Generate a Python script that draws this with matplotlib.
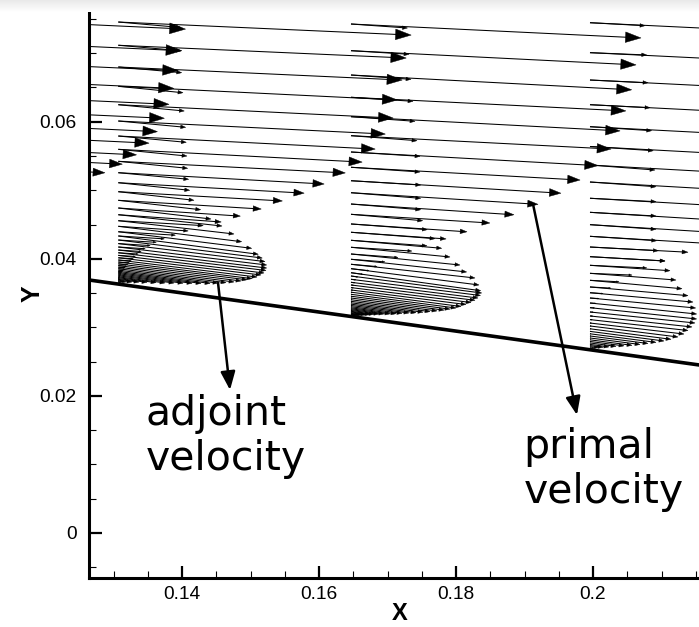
import numpy as np
import matplotlib
matplotlib.use("Agg")
import matplotlib.pyplot as plt
from matplotlib.collections import LineCollection
from matplotlib.patches import Polygon
from matplotlib.ticker import MultipleLocator, FuncFormatter

# ---------------- data ----------------
wall_x = [0.12642, 0.21723]
wall_y = [0.03691, 0.02427]

st0_x = 0.09679
st1_x = 0.13070
st2_x = 0.16467
st3_x = 0.19956

# station 0 (upstream, only primal arrows reach the plot)
st0_y = [0.07554, 0.07234, 0.06939, 0.06680, 0.06444, 0.06236, 0.06041, 0.05869, 0.05694, 0.05554, 0.05424]
st0_pu = [1.033, 1.020, 1.008, 0.993, 0.976, 0.960, 0.936, 0.907, 0.864, 0.815, 0.755]
st0_pv = [-0.048, -0.047, -0.046, -0.046, -0.045, -0.044, -0.044, -0.043, -0.042, -0.041, -0.040]

# station 1
st1_y = [0.07454, 0.07115, 0.06798, 0.06516, 0.06248, 0.06010, 0.05791, 0.05597, 0.05422, 0.05256,
         0.05110, 0.04979, 0.04853, 0.04741, 0.04643, 0.04556, 0.04474, 0.04395, 0.04333, 0.04274,
         0.04222, 0.04172, 0.04128, 0.04088, 0.04050, 0.04015, 0.03982, 0.03953, 0.03926, 0.03901,
         0.03878, 0.03856, 0.03835, 0.03816, 0.03799, 0.03783, 0.03767, 0.03752, 0.03737, 0.03724,
         0.03711, 0.03700, 0.03688, 0.03676, 0.03666, 0.03656]
st1_pu = [1.010, 0.993, 0.979, 0.962, 0.948, 0.921, 0.886, 0.841, 0.783, 0.710,
          0.641, 0.566, 0.493, 0.421, 0.355, 0.293, 0.241, 0.197, 0.159, 0.131,
          0.110, 0.093, 0.079, 0.069, 0.059, 0.052, 0.045, 0.038, 0.033, 0.028,
          0.024, 0.021, 0.017, 0.015, 0.012, 0.010, 0.009, 0.007, 0.006, 0.0045,
          0.0035, 0.003, 0.002, 0.0015, 0.001, 0.0005]
st1_pv = [-0.045, -0.044, -0.045, -0.047, -0.046, -0.045, -0.045, -0.044, -0.040, -0.039,
          -0.036, -0.032, -0.030, -0.028, -0.025, -0.017, -0.016, -0.012, -0.010, -0.008,
          -0.007, -0.006, -0.005, -0.0045, -0.004, -0.0035, -0.003, -0.0028, -0.0024, -0.002,
          -0.0017, -0.0015, -0.0013, -0.0011, -0.0009, -0.0008, -0.0007, -0.0005, -0.0004, -0.0003,
          -0.0003, -0.0002, -0.0002, -0.0001, -0.0001, 0.0]
st1_au = [0.630, 0.630, 0.634, 0.647, 0.660, 0.674, 0.680, 0.687, 0.694, 0.704,
          0.714, 0.757, 0.824, 0.927, 1.037, 1.157, 1.234, 1.334, 1.400, 1.440,
          1.467, 1.484, 1.484, 1.477, 1.457, 1.427, 1.387, 1.337, 1.287, 1.227,
          1.157, 1.077, 0.997, 0.917, 0.827, 0.737, 0.647, 0.557, 0.467, 0.377,
          0.287, 0.207, 0.137, 0.077, 0.040, 0.020]
st1_av = [-0.055, -0.055, -0.057, -0.064, -0.063, -0.063, -0.063, -0.067, -0.070, -0.066,
          -0.076, -0.086, -0.094, -0.110, -0.113, -0.133, -0.154, -0.166, -0.183, -0.180,
          -0.180, -0.180, -0.180, -0.177, -0.176, -0.172, -0.170, -0.166, -0.159, -0.154,
          -0.148, -0.140, -0.130, -0.120, -0.108, -0.096, -0.084, -0.072, -0.061, -0.049,
          -0.037, -0.027, -0.018, -0.010, -0.005, -0.003]

# station 2
st2_y = [0.07425, 0.07036, 0.06681, 0.06356, 0.06073, 0.05796, 0.05558, 0.05335, 0.05139, 0.04964,
         0.04799, 0.04649, 0.04508, 0.04387, 0.04270, 0.04168, 0.04070, 0.03993, 0.03920, 0.03856,
         0.03797, 0.03749, 0.03701, 0.03657, 0.03618, 0.03580, 0.03545, 0.03513, 0.03482, 0.03454,
         0.03428, 0.03403, 0.03380, 0.03358, 0.03338, 0.03319, 0.03301, 0.03285, 0.03271, 0.03258,
         0.03246, 0.03234, 0.03224, 0.03214, 0.03205, 0.03196, 0.03189, 0.03182]
st2_pu = [1.000, 0.983, 0.968, 0.948, 0.928, 0.897, 0.852, 0.790, 0.724, 0.645,
          0.562, 0.479, 0.400, 0.328, 0.262, 0.210, 0.162, 0.117, 0.090, 0.062,
          0.041, 0.024, 0.017, 0.014, 0.010, 0.0086, 0.0069, 0.0059, 0.0048, 0.0041,
          0.0034, 0.003, 0.0028, 0.0025, 0.0022, 0.002, 0.0018, 0.0016, 0.0014, 0.0012,
          0.001, 0.0009, 0.0008, 0.0006, 0.0005, 0.0004, 0.0003, 0.0002]
st2_pv = [-0.048, -0.049, -0.051, -0.047, -0.049, -0.046, -0.047, -0.044, -0.043, -0.040,
          -0.037, -0.030, -0.027, -0.023, -0.019, -0.013, -0.012, -0.009, -0.008, -0.007,
          -0.0055, -0.0035, -0.002, -0.0017, -0.0013, -0.001, -0.0009, -0.0008, -0.0006, -0.0005,
          -0.0004, -0.0004, -0.0003, -0.0003, -0.0003, -0.0002, -0.0002, -0.0002, -0.0002, -0.0001,
          -0.0001, -0.0001, -0.0001, -0.0001, 0.0, 0.0, 0.0, 0.0]
st2_au = [0.565, 0.580, 0.600, 0.620, 0.640, 0.660, 0.690, 0.690, 0.697, 0.697,
          0.697, 0.717, 0.763, 0.840, 0.907, 0.990, 1.090, 1.157, 1.240, 1.280,
          1.297, 1.307, 1.295, 1.270, 1.240, 1.200, 1.150, 1.100, 1.050, 0.990,
          0.930, 0.860, 0.790, 0.720, 0.650, 0.580, 0.510, 0.450, 0.390, 0.330,
          0.280, 0.230, 0.190, 0.150, 0.115, 0.085, 0.060, 0.035]
st2_av = [-0.040, -0.036, -0.043, -0.040, -0.046, -0.050, -0.043, -0.047, -0.043, -0.056,
          -0.057, -0.064, -0.057, -0.064, -0.080, -0.097, -0.110, -0.127, -0.137, -0.163,
          -0.180, -0.170, -0.162, -0.157, -0.153, -0.149, -0.145, -0.143, -0.137, -0.129,
          -0.121, -0.112, -0.103, -0.094, -0.085, -0.075, -0.066, -0.059, -0.051, -0.043,
          -0.036, -0.030, -0.025, -0.020, -0.015, -0.011, -0.008, -0.005]

# station 3
st3_y = [0.07444, 0.07007, 0.06608, 0.06248, 0.05927, 0.05638, 0.05368, 0.05120, 0.04883, 0.04678,
         0.04498, 0.04328, 0.04172, 0.04031, 0.03905, 0.03788, 0.03686, 0.03589, 0.03505, 0.03428,
         0.03355, 0.03287, 0.03224, 0.03166, 0.03113, 0.03063, 0.03020, 0.02979, 0.02941, 0.02906,
         0.02874, 0.02845, 0.02818, 0.02794, 0.02772, 0.02751, 0.02734, 0.02718, 0.02703, 0.02690]
st3_pu = [1.000, 0.983, 0.966, 0.948, 0.924, 0.890, 0.845, 0.786, 0.707, 0.621,
          0.534, 0.431, 0.338, 0.259, 0.196, 0.145, 0.100, 0.072, 0.045, 0.031,
          0.021, 0.016, 0.012, 0.010, 0.008, 0.006, 0.005, 0.0045, 0.004, 0.0035,
          0.003, 0.0026, 0.0022, 0.0019, 0.0016, 0.0013, 0.001, 0.0008, 0.0006, 0.0004]
st3_pv = [-0.048, -0.048, -0.048, -0.048, -0.048, -0.048, -0.047, -0.045, -0.041, -0.038,
          -0.033, -0.026, -0.018, -0.015, -0.009, -0.006, -0.005, -0.004, -0.003, -0.002,
          -0.0013, -0.001, -0.0008, -0.0006, -0.0005, -0.0004, -0.0003, -0.0003, -0.0003, -0.0002,
          -0.0002, -0.0002, -0.0001, -0.0001, -0.0001, -0.0001, 0.0, 0.0, 0.0, 0.0]
st3_au = [0.550, 0.567, 0.580, 0.600, 0.617, 0.633, 0.650, 0.660, 0.660, 0.660,
          0.660, 0.667, 0.683, 0.750, 0.800, 0.860, 0.920, 0.980, 1.030, 1.057,
          1.067, 1.067, 1.050, 1.020, 0.980, 0.940, 0.880, 0.810, 0.740, 0.660,
          0.580, 0.500, 0.420, 0.340, 0.260, 0.190, 0.130, 0.080, 0.045, 0.020]
st3_av = [-0.030, -0.023, -0.027, -0.030, -0.040, -0.042, -0.050, -0.047, -0.034, -0.037,
          -0.046, -0.044, -0.037, -0.043, -0.054, -0.067, -0.084, -0.087, -0.093, -0.100,
          -0.110, -0.113, -0.110, -0.110, -0.109, -0.110, -0.110, -0.105, -0.096, -0.086,
          -0.075, -0.065, -0.055, -0.044, -0.034, -0.025, -0.017, -0.010, -0.006, -0.003]

x_ticks = [0.14, 0.16, 0.18, 0.2]
y_ticks = [0.0, 0.02, 0.04, 0.06]

# vector scale factors (data length per unit of normalized velocity)
PRIMAL_SCALE = 0.042336
ADJOINT_SCALE = 0.014599

# ---------------- figure ----------------
W, H = 699, 627
fig = plt.figure(figsize=(W / 100, H / 100), dpi=100)
ax_l, ax_r, ax_t, ax_b = 89, 711, 9, 578
ax = fig.add_axes([ax_l / W, 1 - ax_b / H, (ax_r - ax_l) / W, (ax_b - ax_t) / H])
ax.set_xlim(0.126423, 0.217226)
ax.set_ylim(-0.006565, 0.07644)

PX = (0.217226 - 0.126423) / (ax_r - ax_l)  # data units per pixel


def primal_head(L):
    hl = min(0.05 * L + 1.0 * PX, 0.6 * L)
    return hl, 0.34 * hl


def adjoint_head(L):
    hl = min(5.0 * PX, 0.45 * L)
    return hl, 0.36 * hl


def draw_vectors(x0, ys, us, vs, scale, head_fn):
    segs = []
    for y, u, v in zip(ys, us, vs):
        dx, dy = u * scale, v * scale
        L = np.hypot(dx, dy)
        if L < 1e-9:
            continue
        hl, hw = head_fn(L)
        ex, ey = dx / L, dy / L
        tx, ty = x0 + dx, y + dy
        bx, by = tx - ex * hl, ty - ey * hl
        nx, ny = -ey, ex
        tri = [[tx, ty], [bx + nx * hw, by + ny * hw], [bx - nx * hw, by - ny * hw]]
        ax.add_patch(Polygon(tri, closed=True, fc="black", ec="black", lw=0.3, zorder=3))
        segs.append([(x0, y), (bx + ex * hl * 0.3, by + ey * hl * 0.3)])
    ax.add_collection(LineCollection(segs, colors="black", linewidths=0.75, zorder=2))


draw_vectors(st0_x, st0_y, st0_pu, st0_pv, PRIMAL_SCALE, primal_head)
for sx, sy, pu, pv, au, av in [
    (st1_x, st1_y, st1_pu, st1_pv, st1_au, st1_av),
    (st2_x, st2_y, st2_pu, st2_pv, st2_au, st2_av),
    (st3_x, st3_y, st3_pu, st3_pv, st3_au, st3_av),
]:
    draw_vectors(sx, sy, pu, pv, PRIMAL_SCALE, primal_head)
    draw_vectors(sx, sy, au, av, ADJOINT_SCALE, adjoint_head)

ax.plot(wall_x, wall_y, color="black", lw=2.6, solid_capstyle="butt", zorder=4)

# annotations
arrow_kw = dict(arrowstyle="-|>,head_length=0.55,head_width=0.22", mutation_scale=20,
                lw=1.8, color="black", shrinkA=0, shrinkB=0)
ax.annotate("", xy=(0.14701, 0.02086), xytext=(0.14526, 0.03647), arrowprops=arrow_kw, zorder=5)
ax.annotate("", xy=(0.19766, 0.01721), xytext=(0.19124, 0.04799), arrowprops=arrow_kw, zorder=5)

tkw = dict(fontsize=29.5, family="DejaVu Sans", ha="left", va="baseline", color="black")
ax.text(0.13467, 0.015755, "adjoint", **tkw)
ax.text(0.13467, 0.00919, "velocity", **tkw)
ax.text(0.18985, 0.01094, "primal", **tkw)
ax.text(0.18985, 0.004376, "velocity", **tkw)

# axes styling
for s in ["top", "right"]:
    ax.spines[s].set_visible(False)
for s in ["left", "bottom"]:
    ax.spines[s].set_linewidth(2.2)
ax.xaxis.set_major_locator(MultipleLocator(0.02))
ax.xaxis.set_minor_locator(MultipleLocator(0.005))
ax.yaxis.set_major_locator(MultipleLocator(0.02))
ax.yaxis.set_minor_locator(MultipleLocator(0.005))
ax.set_xticks(x_ticks)
ax.set_yticks(y_ticks)
fmt = FuncFormatter(lambda v, p: "%g" % round(v, 4))
ax.xaxis.set_major_formatter(fmt)
ax.yaxis.set_major_formatter(fmt)
ax.tick_params(which="major", direction="in", length=9, width=1.6, top=False, right=False)
ax.tick_params(which="minor", direction="in", length=5, width=0.8, top=False, right=False)
ax.tick_params(axis="x", which="major", pad=6)
ax.tick_params(axis="y", which="major", pad=9)
for lab in ax.get_xticklabels() + ax.get_yticklabels():
    lab.set_fontfamily("Liberation Sans")
    lab.set_fontsize(13.8)

ax.set_xlabel("X", fontsize=17, fontweight="bold", family="Liberation Sans")
ax.set_ylabel("Y", fontsize=18, fontweight="bold", family="Liberation Sans")
ax.xaxis.set_label_coords(0.5, (ax_b - 602) / (ax_b - ax_t))
ax.yaxis.set_label_coords((45 - ax_l) / (ax_r - ax_l), 0.5)

# light shading band at the top of the image
gax = fig.add_axes([0, 1 - 12 / H, 1, 12 / H], zorder=10)
gax.imshow(np.linspace(0.91, 1.0, 40)[:, None], cmap="gray", vmin=0, vmax=1,
           aspect="auto", extent=[0, 1, 0, 1])
gax.axis("off")

fig.savefig("out.png", dpi=100)
